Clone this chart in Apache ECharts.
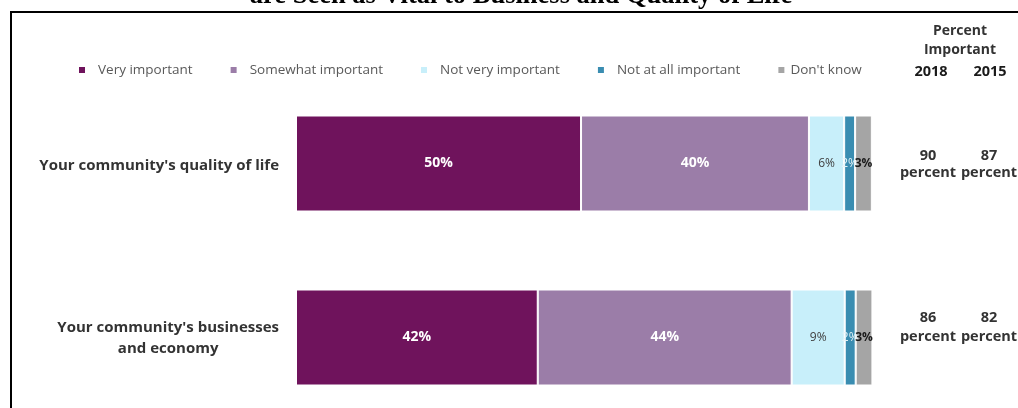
<!DOCTYPE html>
<html>
<head>
<meta charset="utf-8">
<script src="https://cdn.jsdelivr.net/npm/echarts@6/dist/echarts.min.js"></script>
<style>
html,body{margin:0;padding:0;background:#fff;}
#chart{width:1018px;height:408px;}
</style>
</head>
<body>
<div id="chart"></div>
<script>
// ---- data ----
const titleText = 'are Seen as Vital to Business and Quality of Life';
const categories = ["Your community's quality of life", "Your community's businesses\nand economy"];
const seriesNames = ['Very important', 'Somewhat important', 'Not very important', 'Not at all important', "Don't know"];
// bar widths (percent of the row)
const veryImportant = [49.4, 41.9];
const somewhatImportant = [39.5, 44.0];
const notVeryImportant = [6.1, 9.2];
const notAtAllImportant = [1.9, 1.9];
const dontKnow = [2.9, 2.9];
// printed percentages
const veryLabels = [50, 42];
const somewhatLabels = [40, 44];
const notVeryLabels = [6, 9];
const notAtAllLabels = [2, 2];
const dontKnowLabels = [3, 3];
// right-hand columns
const years = ['2018', '2015'];
const pct2018 = [90, 86];
const pct2015 = [87, 82];

const colors = ['#6F135C', '#9B7DA8', '#C8EFFA', '#3A8DB1', '#A5A5A5'];
const F = '"Open Sans", "DejaVu Sans", sans-serif';

const values = [veryImportant, somewhatImportant, notVeryImportant, notAtAllImportant, dontKnow];
const labels = [veryLabels, somewhatLabels, notVeryLabels, notAtAllLabels, dontKnowLabels];
const labelStyles = [
  {color: '#fff', fontWeight: 'bold', fontSize: 14},
  {color: '#fff', fontWeight: 'bold', fontSize: 14},
  {color: '#404040', fontWeight: 'normal', fontSize: 12},
  {color: '#E6F4F8', fontWeight: 'normal', fontSize: 12},
  {color: '#1a1a1a', fontWeight: 'bold', fontSize: 12}
];

const series = seriesNames.map((name, i) => ({
  name: name,
  type: 'bar',
  stack: 'total',
  barWidth: 96,
  itemStyle: {color: colors[i], borderColor: '#fff', borderWidth: 1},
  label: Object.assign({
    show: true,
    position: 'inside',
    fontFamily: F,
    formatter: p => labels[i][p.dataIndex] + '%'
  }, labelStyles[i]),
  emphasis: {disabled: true},
  data: values[i]
}));

const base = {color: '#333', fontWeight: 'bold', fontSize: 14.5, fontFamily: F, lineHeight: 19};
const rightRich = {
  n: Object.assign({padding: [4, 0, 0, 0]}, base),
  p: Object.assign({}, base),
  e: Object.assign({}, base, {lineHeight: 20})
};
const rightLabel = {
  align: 'center',
  color: '#333',
  fontWeight: 'bold',
  fontSize: 14.5,
  fontFamily: F,
  lineHeight: 19,
  rich: rightRich
};
const rightFmt = arr => (v, idx) => idx === 0
  ? '{n|' + arr[idx] + '}\n{p|percent}'
  : '{p|' + arr[idx] + '}\n{p|percent}\n{e| }';

const legendData = seriesNames.map((n, i) => i === seriesNames.length - 1
  ? {name: n, textStyle: {padding: [0, 0, 0, 0]}}
  : {name: n});

const chart = echarts.init(document.getElementById('chart'), null, {renderer: 'canvas'});
chart.setOption({
  animation: false,
  color: colors,
  legend: {
    data: legendData,
    left: 72,
    top: 58,
    icon: 'rect',
    itemWidth: 8,
    itemHeight: 8,
    itemGap: 36,
    textStyle: {color: '#595959', fontSize: 13.5, fontFamily: F, padding: [0, 0, 0, 7]}
  },
  grid: {left: 296, right: 145, top: 76.5, height: 348, containLabel: false, outerBoundsMode: 'none'},
  xAxis: {type: 'value', min: 0, max: 100, show: false},
  yAxis: [
    {
      type: 'category',
      inverse: true,
      data: categories,
      axisLine: {show: false},
      axisTick: {show: false},
      axisLabel: {
        margin: 17,
        color: '#333',
        fontWeight: 'bold',
        fontSize: 15,
        fontFamily: F,
        lineHeight: 23,
        formatter: v => v.split('\n').map((s, k) => '{' + (k === 0 ? 'c1' : 'c') + '|' + s + '}').join('\n'),
        rich: {
          c1: {align: 'center', color: '#333', fontWeight: 'bold', fontSize: 15, fontFamily: F, lineHeight: 23, padding: [4, 0, 0, 0]},
          c: {align: 'center', color: '#333', fontWeight: 'bold', fontSize: 15, fontFamily: F, lineHeight: 23}
        }
      }
    },
    {
      type: 'category',
      inverse: true,
      position: 'right',
      data: categories,
      axisLine: {show: false},
      axisTick: {show: false},
      axisLabel: Object.assign({margin: 55, formatter: rightFmt(pct2018)}, rightLabel)
    },
    {
      type: 'category',
      inverse: true,
      position: 'right',
      data: categories,
      axisLine: {show: false},
      axisTick: {show: false},
      axisLabel: Object.assign({margin: 116, formatter: rightFmt(pct2015)}, rightLabel)
    }
  ],
  graphic: [
    {
      type: 'rect',
      shape: {x: 11, y: 12, width: 1030, height: 430},
      style: {fill: 'none', stroke: '#000', lineWidth: 2},
      silent: true
    },
    {
      type: 'text',
      x: 521,
      y: -17,
      style: {text: titleText, textAlign: 'center', textVerticalAlign: 'top', font: 'bold 26.5px "Liberation Serif", serif', fill: '#000'},
      silent: true
    },
    {
      type: 'text',
      x: 960,
      y: 22,
      style: {text: 'Percent\nImportant', textAlign: 'center', textVerticalAlign: 'top', font: 'bold 14px "Open Sans", sans-serif', fill: '#333', lineHeight: 19},
      silent: true
    },
    {
      type: 'text',
      x: 931,
      y: 64,
      style: {text: years[0], textAlign: 'center', textVerticalAlign: 'top', font: 'bold 14.5px "Open Sans", sans-serif', fill: '#1a1a1a'},
      silent: true
    },
    {
      type: 'text',
      x: 990,
      y: 64,
      style: {text: years[1], textAlign: 'center', textVerticalAlign: 'top', font: 'bold 14.5px "Open Sans", sans-serif', fill: '#1a1a1a'},
      silent: true
    }
  ],
  series: series
});
</script>
</body>
</html>
